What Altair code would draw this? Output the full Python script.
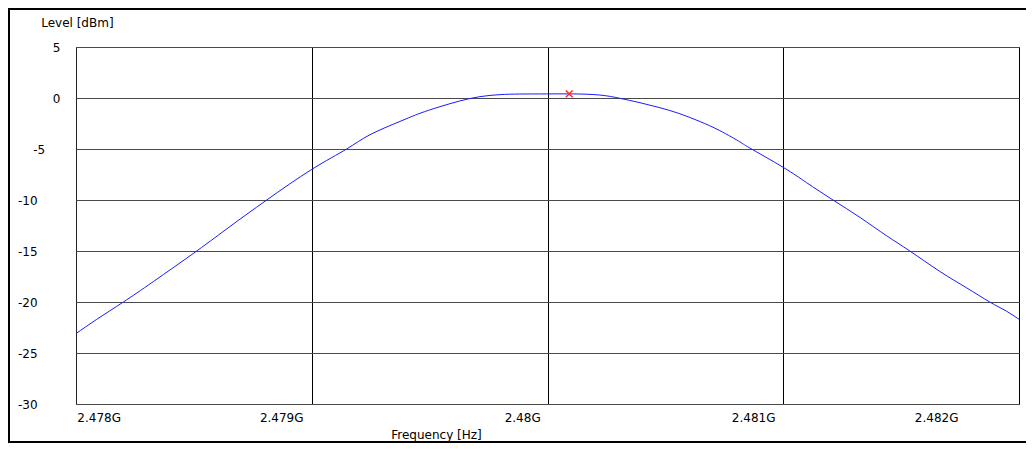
import altair as alt
import pandas as pd

# Spectrum trace (frequency in Hz, level in dBm)
freq_hz = [
    2478000000, 2478088000, 2478201000, 2478328000, 2478512000, 2478653000,
    2478809000, 2479000000, 2479148000, 2479247000, 2479374000, 2479459000,
    2479544000, 2479628000, 2479713000, 2479798000, 2479883000, 2479996000,
    2480109000, 2480222000, 2480307000, 2480392000, 2480477000, 2480561000,
    2480646000, 2480731000, 2480816000, 2480858000, 2481000000, 2481099000,
    2481211000, 2481325000, 2481438000, 2481537000, 2481664000, 2481777000,
    2481876000, 2481947000, 2482000000,
]
level_dbm = [
    -23.1, -21.7, -20.0, -18.0, -15.0, -12.6,
    -10.0, -7.0, -5.0, -3.6, -2.3, -1.5,
    -0.85, -0.29, 0.13, 0.33, 0.39, 0.40,
    0.40, 0.29, -0.03, -0.46, -0.95, -1.54,
    -2.3, -3.2, -4.3, -4.9, -6.8, -8.3,
    -10.0, -11.7, -13.5, -15.0, -17.0, -18.6,
    -20.0, -20.9, -21.7,
]

# Marker
marker_freq = [2480092000]
marker_level = [0.40]

# Axis ticks and labels
x_ticks = [2478000000, 2479000000, 2480000000, 2481000000, 2482000000]
x_labels = ["2.478G", "2.479G", "2.48G", "2.481G", "2.482G"]
y_ticks = [5, 0, -5, -10, -15, -20, -25, -30]

trace = pd.DataFrame({"f": freq_hz, "lvl": level_dbm})
mk = pd.DataFrame({"f": marker_freq, "lvl": marker_level})

label_expr = " : ".join(
    f"datum.value < {v + 500000} ? '{l}'" for v, l in zip(x_ticks[:-1], x_labels[:-1])
) + f" : '{x_labels[-1]}'"

NB = "\u00a0"
ZW = "\u200b"
y_label_expr = (
    "(''+datum.value) + (length(''+datum.value) == 2 ? '" + NB * 4 + ZW + "' : "
    "length(''+datum.value) == 3 ? '" + NB * 6 + ZW + "' : '')"
)

x_scale = alt.Scale(domain=[x_ticks[0], x_ticks[-1]], nice=False, zero=False)
y_scale = alt.Scale(domain=[-30, 5], nice=False, zero=False)

x_axis = alt.Axis(
    values=x_ticks,
    labelExpr=label_expr,
    grid=True,
    gridColor="#000000",
    gridWidth=1,
    gridOpacity={"condition": {"test": "datum.value < 2478500000", "value": 0}, "value": 1},
    ticks=False,
    tickSize=0,
    domain=False,
    labelFlush=False,
    labelOverlap=False,
    labelAlign="right",
    labelBaseline="top",
    labelPadding=8,
    labelOffset={
        "condition": [
            {"test": "datum.value < 2478500000", "value": 44.5},
            {"test": "datum.value < 2479500000", "value": -8.7},
            {"test": "datum.value < 2480500000", "value": -7.3},
            {"test": "datum.value < 2481500000", "value": -8.3},
        ],
        "value": -61,
    },
    title="Frequency [Hz]",
    titleX=360,
    titleY=34,
    titleAlign="center",
    titleBaseline="alphabetic",
)

y_axis = alt.Axis(
    values=y_ticks,
    labelExpr=y_label_expr,
    grid=True,
    gridColor="#4a4a4a",
    gridWidth=1,
    ticks=False,
    tickSize=0,
    domain=False,
    labelFlush=False,
    labelOverlap=False,
    labelAlign="right",
    labelBaseline="middle",
    labelPadding=16,
    title="Level [dBm]",
    titleAngle=0,
    titleAlign="left",
    titleBaseline="alphabetic",
    titleX=-35.3,
    titleY=-20.3,
)

line = alt.Chart(trace).mark_line(color="#1a1aff", strokeWidth=1, interpolate="natural").encode(
    x=alt.X("f:Q", scale=x_scale, axis=x_axis),
    y=alt.Y("lvl:Q", scale=y_scale, axis=y_axis),
)

marker = alt.Chart(mk).mark_point(
    shape="M-1,-1L1,1M1,-1L-1,1", size=45, filled=False, color="#ff2a2a", strokeWidth=1.5, opacity=1
).encode(
    x=alt.X("f:Q", scale=x_scale),
    y=alt.Y("lvl:Q", scale=y_scale),
)

frame = alt.Chart(pd.DataFrame({"a": [0]})).mark_rect(
    filled=False, stroke="#000000", strokeWidth=2
).encode(
    x=alt.value(-67), x2=alt.value(960), y=alt.value(-38), y2=alt.value(395)
)

chart = alt.layer(frame, line, marker).properties(
    width=943,
    height=357,
    autosize=alt.AutoSizeParams(type="none"),
    padding={"left": 68, "top": 39, "right": 7, "bottom": 39},
    background="white",
).configure_view(
    stroke="#222222", strokeWidth=1
).configure_axis(
    labelFont="DejaVu Sans",
    labelFontSize=12,
    labelColor="#000000",
    titleFont="DejaVu Sans",
    titleFontSize=12,
    titleFontWeight="normal",
    titleColor="#000000",
)

chart.save("out.html", embed_options={"renderer": "svg", "actions": False})
